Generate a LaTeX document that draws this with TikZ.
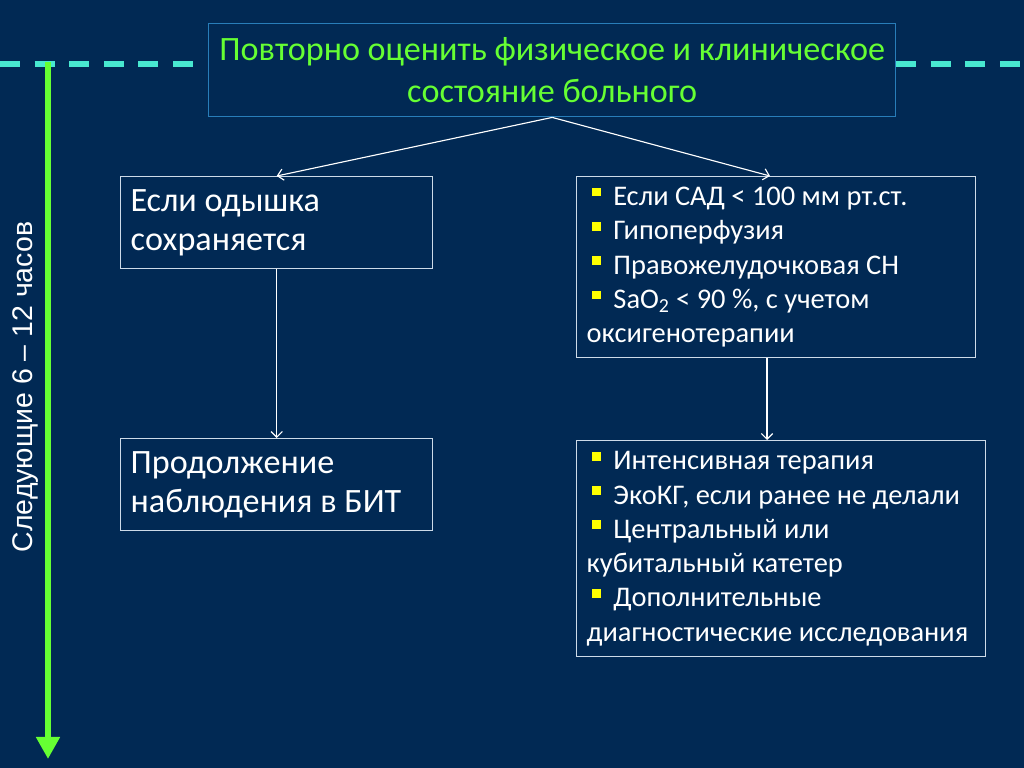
\documentclass[tikz,border=0pt]{standalone}
\usepackage{fontspec}
\setmainfont{Carlito}
\newfontfamily\arialfont{Liberation Sans}
\usetikzlibrary{arrows.meta}
\definecolor{bgcol}{RGB}{1,41,84}
\definecolor{dashcyan}{RGB}{72,232,208}
\definecolor{limegreen}{RGB}{102,255,51}
\definecolor{topborder}{RGB}{40,125,185}
\definecolor{boxborder}{RGB}{205,218,232}
\definecolor{bulyellow}{RGB}{255,255,0}
\def\pxu{0.703125pt}
\newcommand\bul{\hspace*{3.5pt}{\color{bulyellow}\rule[0.32em]{6.8pt}{6.2pt}}\hspace{8.5pt}}
\tikzset{
  topbox/.style={draw=topborder, line width=1pt, anchor=north west, inner sep=0pt,
    align=center, text=limegreen, font=\fontsize{24}{29.5}\selectfont},
  whitebox/.style={draw=boxborder, line width=1pt, anchor=north west, inner ysep=0pt,
    inner xsep=10*\pxu, align=flush left, text=white},
  bigtext/.style={font=\fontsize{24}{27.4}\selectfont},
  smalltext/.style={font=\fontsize{20}{24.1}\selectfont},
  conn/.style={draw=white, line width=0.8pt, -{Straight Barb[length=4pt,width=8pt]}},
  timearrow/.style={draw=limegreen, line width=4pt, -{Triangle[length=15.5pt,width=16pt]}},
  dashline/.style={draw=dashcyan, line width=4.2pt, dash pattern=on 20*\pxu off 14.6*\pxu}
}
\begin{document}
\begin{tikzpicture}[x=0.703125pt,y=-0.703125pt]
\fill[bgcol] (0,0) rectangle (1024,768);
\useasboundingbox (0,0) rectangle (1024,768);

% dashed line
\coordinate (dl1) at (0,64);
\coordinate (dl2) at (195,64);
\coordinate (dr1) at (896,64);
\coordinate (dr2) at (1024,64);
\draw[dashline] (dl1) -- (dl2);
\draw[dashline] (dr1) -- (dr2);

% time arrow
\coordinate (tstart) at (48,62);
\coordinate (tend) at (48,759);
\draw[timearrow] (tstart) -- (tend);
\node[rotate=90, text=white, font=\arialfont\fontsize{20}{24}\selectfont] (tlabel) at (26,387) {Следующие 6 – 12 часов};

% boxes
\node[topbox, minimum width=687*\pxu, minimum height=93*\pxu] (top) at (208,23)
  {Повторно оценить физическое и клиническое\\состояние больного};

\node[whitebox, bigtext, text width=292*\pxu, minimum height=92*\pxu] (b1) at (120,176)
  {Если одышка\\сохраняется};

\node[whitebox, smalltext, text width=379*\pxu, minimum height=181*\pxu] (b2) at (576,176)
  {\bul Если САД < 100 мм рт.ст.\\
   \bul Гипоперфузия\\
   \bul Правожелудочковая СН\\
   \bul SaO\textsubscript{2} < 90 \%, с учетом\\
   оксигенотерапии};

\node[whitebox, bigtext, text width=292*\pxu, minimum height=92*\pxu] (b3) at (120,438)
  {Продолжение\\наблюдения в БИТ};

\node[whitebox, smalltext, text width=389*\pxu, minimum height=216*\pxu] (b4) at (576,440)
  {\bul Интенсивная терапия\\
   \bul ЭкоКГ, если ранее не делали\\
   \bul Центральный или\\
   кубитальный катетер\\
   \bul Дополнительные\\
   диагностические исследования};

% connectors
\draw[conn] (top.south) -- (b1.north);
\draw[conn] (top.south) -- ([xshift=194*\pxu]b2.north west);
\draw[conn] (b1.south) -- (b3.north);
\draw[conn] ([xshift=191*\pxu]b2.south west) -- ([xshift=191*\pxu]b4.north west);
\end{tikzpicture}
\end{document}
